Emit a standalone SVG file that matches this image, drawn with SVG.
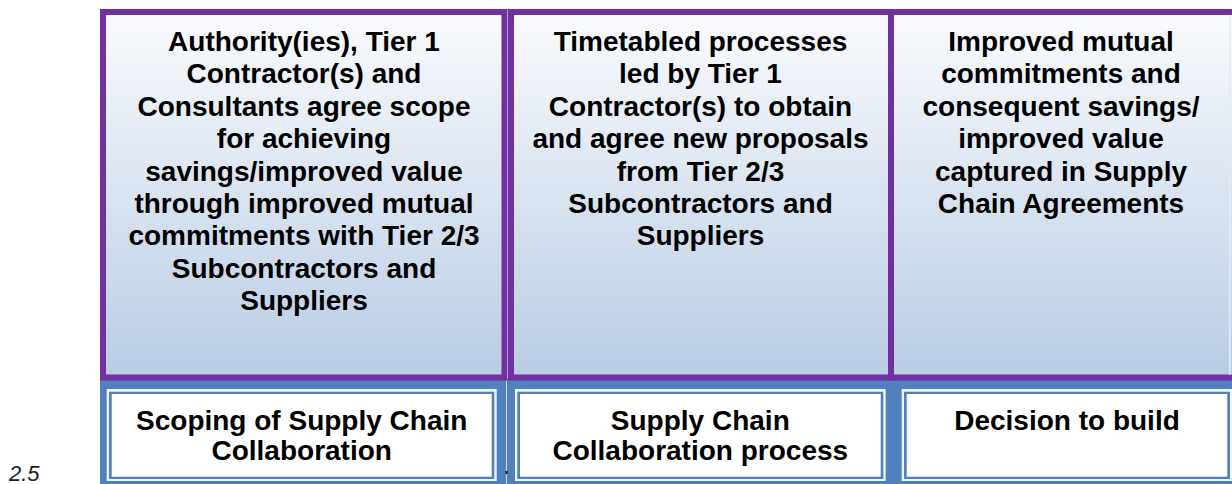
<svg xmlns="http://www.w3.org/2000/svg" width="1232" height="484" viewBox="0 0 1232 484">
<style>
.t{font-family:"Liberation Sans",Arial,sans-serif;font-weight:bold;font-size:28px;fill:#000;text-anchor:middle}
.pb{fill:url(#g);stroke:#7030A0;stroke-width:6}
.o{fill:#F2F6FB}
.m{fill:#4F81BD}
.w{fill:#FFFFFF}
</style>
<defs>
<linearGradient id="g" x1="0" y1="0" x2="0" y2="1">
<stop offset="0" stop-color="#FAFBFD"/>
<stop offset="1" stop-color="#B9CCE4"/>
</linearGradient>
</defs>
<rect width="1232" height="484" fill="#FFFFFF"/>
<g id="bottom-band">
<rect x="100" y="379" width="1140" height="110" fill="#4F81BD"/>
<rect x="506" y="380" width="1" height="104" fill="#C9D7EA"/>
</g>
<g id="node-scope">
<rect class="pb" x="103" y="12" width="401.5" height="365.5"/>
<text class="t" x="304" y="51">Authority(ies), Tier 1</text>
<text class="t" x="304" y="83.4">Contractor(s) and</text>
<text class="t" x="304" y="115.8">Consultants agree scope</text>
<text class="t" x="304" y="148.2">for achieving</text>
<text class="t" x="304" y="180.6">savings/improved value</text>
<text class="t" x="304" y="213">through improved mutual</text>
<text class="t" x="304" y="245.4">commitments with Tier 2/3</text>
<text class="t" x="304" y="277.8">Subcontractors and</text>
<text class="t" x="304" y="310.2">Suppliers</text>
</g>
<g id="node-process">
<rect class="pb" x="511" y="12" width="380" height="365.5"/>
<text class="t" x="700.5" y="51">Timetabled processes</text>
<text class="t" x="700.5" y="83.4">led by Tier 1</text>
<text class="t" x="700.5" y="115.8">Contractor(s) to obtain</text>
<text class="t" x="700.5" y="148.2">and agree new proposals</text>
<text class="t" x="700.5" y="180.6">from Tier 2/3</text>
<text class="t" x="700.5" y="213">Subcontractors and</text>
<text class="t" x="700.5" y="245.4">Suppliers</text>
</g>
<g id="node-commit">
<rect class="pb" x="891" y="12" width="350" height="365.5"/>
<rect x="1229" y="15" width="1.5" height="360" fill="#E4EBF4"/>
<text class="t" x="1061" y="51">Improved mutual</text>
<text class="t" x="1061" y="83.4">commitments and</text>
<text class="t" x="1061" y="115.8">consequent savings/</text>
<text class="t" x="1061" y="148.2">improved value</text>
<text class="t" x="1061" y="180.6">captured in Supply</text>
<text class="t" x="1061" y="213">Chain Agreements</text>
</g>
<g id="stage-scoping">
<rect class="o" x="106.7" y="389" width="390" height="92"/>
<rect class="m" x="109" y="391.7" width="385.3" height="87.3"/>
<rect class="w" x="111.7" y="394" width="380" height="82.7"/>
<text class="t" x="301.7" y="430">Scoping of Supply Chain</text>
<text class="t" x="301.7" y="460">Collaboration</text>
</g>
<g id="stage-process">
<rect class="o" x="515" y="389" width="370.7" height="92"/>
<rect class="m" x="517.3" y="391.7" width="366" height="87.3"/>
<rect class="w" x="520" y="394" width="360.7" height="82.7"/>
<text class="t" x="700.3" y="430">Supply Chain</text>
<text class="t" x="700.3" y="460">Collaboration process</text>
</g>
<g id="stage-decision">
<rect class="o" x="901.7" y="389" width="340" height="92"/>
<rect class="m" x="904" y="391.7" width="326" height="87.3"/>
<rect class="w" x="906.7" y="394" width="320.6" height="82.7"/>
<text class="t" x="1067" y="430">Decision to build</text>
</g>
<g id="connectors"></g>
<rect x="505.5" y="471" width="2" height="3" fill="#1A1A1A"/>
<text x="9" y="481" font-family="'Liberation Sans',Arial,sans-serif" font-style="italic" font-size="22" fill="#222">2.5</text>
</svg>
